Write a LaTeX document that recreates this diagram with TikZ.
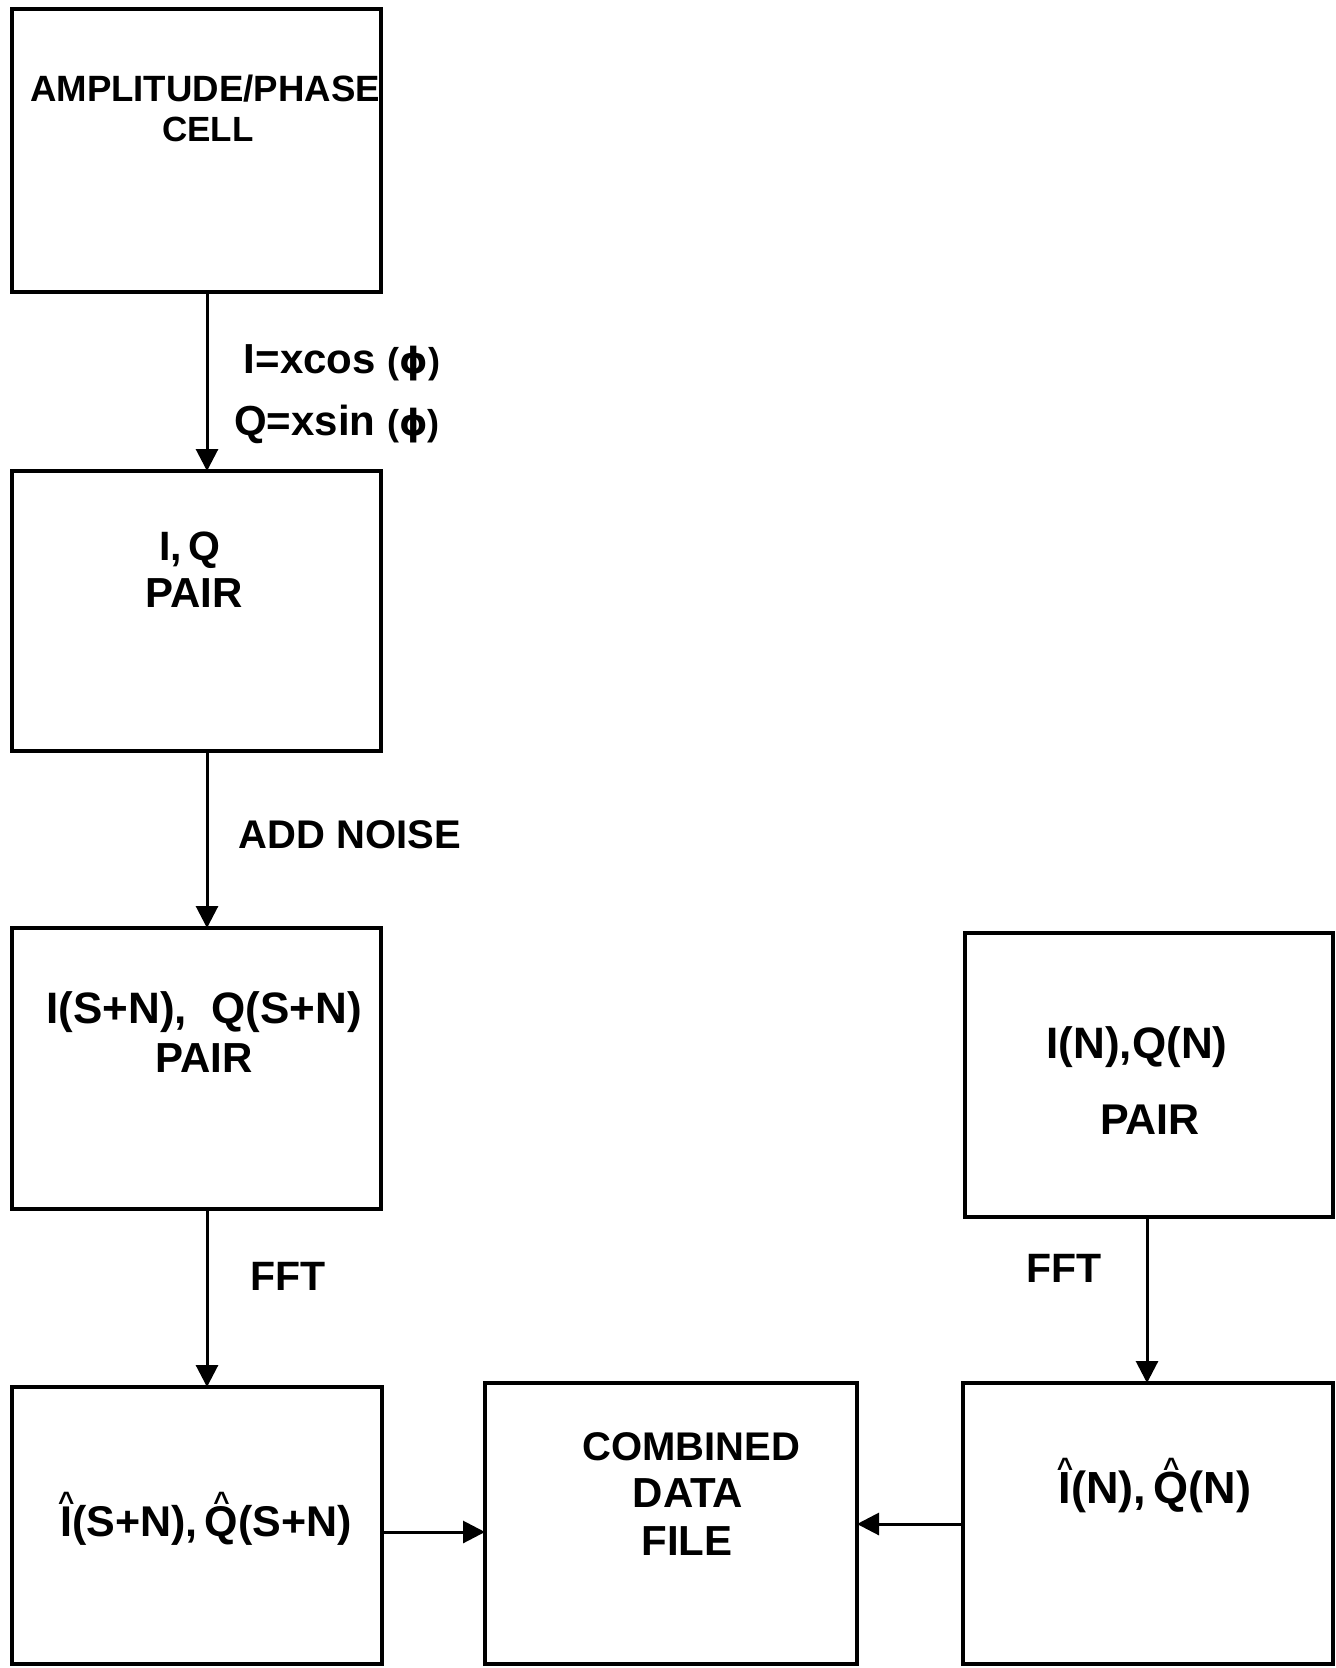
\documentclass[tikz,border=0pt]{standalone}
\usepackage{fontspec}
\setmainfont{Liberation Sans}
\newfontfamily\phifont{DejaVu Sans}
\usetikzlibrary{arrows.meta,fit}
\newcommand{\fsz}[1]{\bfseries\fontsize{#1}{#1}\selectfont}
% a letter with a large caret set above it
\newsavebox{\hatbox}
\newcommand{\bighat}[1]{\sbox{\hatbox}{#1}\makebox[\wd\hatbox]{\raisebox{0.56em}{\fontsize{14}{14}\selectfont\char"5E}}\kern-\wd\hatbox\usebox{\hatbox}}
% the angle symbol, set a little smaller with its parentheses
\newcommand{\angphi}{{\fontsize{18}{18}\selectfont({\phifont\bfseries ϕ})}}
\begin{document}
\begin{tikzpicture}[x=0.5pt,y=-0.5pt,
  box/.style={draw, line width=1.6pt, inner sep=0pt, outer sep=0pt, rectangle},
  txt/.style={inner sep=0pt, anchor=base, font=\fsz{21}},
  arr/.style={line width=1.5pt, -{Triangle[length=11pt,width=11pt]}},
]
\useasboundingbox[fill=white] (0,0) rectangle (1336,1668);

% blocks
\node[box, fit={(12,9) (381,292)}] (cell) {};
\node[box, fit={(12,471) (381,751)}] (iq) {};
\node[box, fit={(12,928) (381,1209)}] (sn) {};
\node[box, fit={(12,1387) (382,1664)}] (snhat) {};
\node[box, fit={(485,1383) (857,1664)}] (comb) {};
\node[box, fit={(965,933) (1333,1217)}] (noise) {};
\node[box, fit={(963,1383) (1333,1664)}] (nhat) {};

% block texts
\node[txt, font=\fsz{18.3}] (t1a) at (205,102) {AMPLITUDE/PHASE};
\node[txt, font=\fsz{17.5}] (t1b) at (208,142) {CELL};
\node[txt, font=\fsz{20.5}] (t2a) at (190,560) {I,\,Q};
\node[txt, font=\fsz{21}] (t2b) at (194,607) {PAIR};
\node[txt, font=\fsz{22}] (t3a) at (204,1023) {I(S+N),\ \ Q(S+N)};
\node[txt, font=\fsz{21}] (t3b) at (204,1072) {PAIR};
\node[txt, font=\fsz{22}] (t6a) at (1137,1058) {I(N),Q(N)};
\node[txt, font=\fsz{21.5}] (t6b) at (1150,1134) {PAIR};
\node[txt, font=\fsz{20}] (t5a) at (691,1460) {COMBINED};
\node[txt, font=\fsz{21}] (t5b) at (688,1507) {DATA};
\node[txt, font=\fsz{21}] (t5c) at (687,1555) {FILE};
\node[txt, font=\fsz{21.5}] (t4) at (206,1536) {\bighat{I}(S+N),\,\bighat{Q}(S+N)};
\node[txt, font=\fsz{22.5}] (t7) at (1155,1503) {\bighat{I}(N),\,\bighat{Q}(N)};

% connector labels
\node[txt] (l1) at (342,374) {I=xcos \angphi};
\node[txt] (l2) at (337,436) {Q=xsin \angphi};
\node[txt, font=\fsz{20}] (l3) at (350,848) {ADD NOISE};
\node[txt, font=\fsz{20.5}] (l4) at (288,1290) {FFT};
\node[txt, font=\fsz{20.5}] (l5) at (1064,1282) {FFT};

% connector routes
\coordinate (colL) at (207,0);
\coordinate (colR) at (1147,0);
\coordinate (rowA) at (0,1532);
\coordinate (rowB) at (0,1524);

\draw[arr] (cell.south -| colL) -- (iq.north -| colL);
\draw[arr] (iq.south -| colL) -- (sn.north -| colL);
\draw[arr] (sn.south -| colL) -- (snhat.north -| colL);
\draw[arr] (noise.south -| colR) -- (nhat.north -| colR);
\draw[arr] (snhat.east |- rowA) -- (comb.west |- rowA);
\draw[arr] (nhat.west |- rowB) -- (comb.east |- rowB);
\end{tikzpicture}
\end{document}
